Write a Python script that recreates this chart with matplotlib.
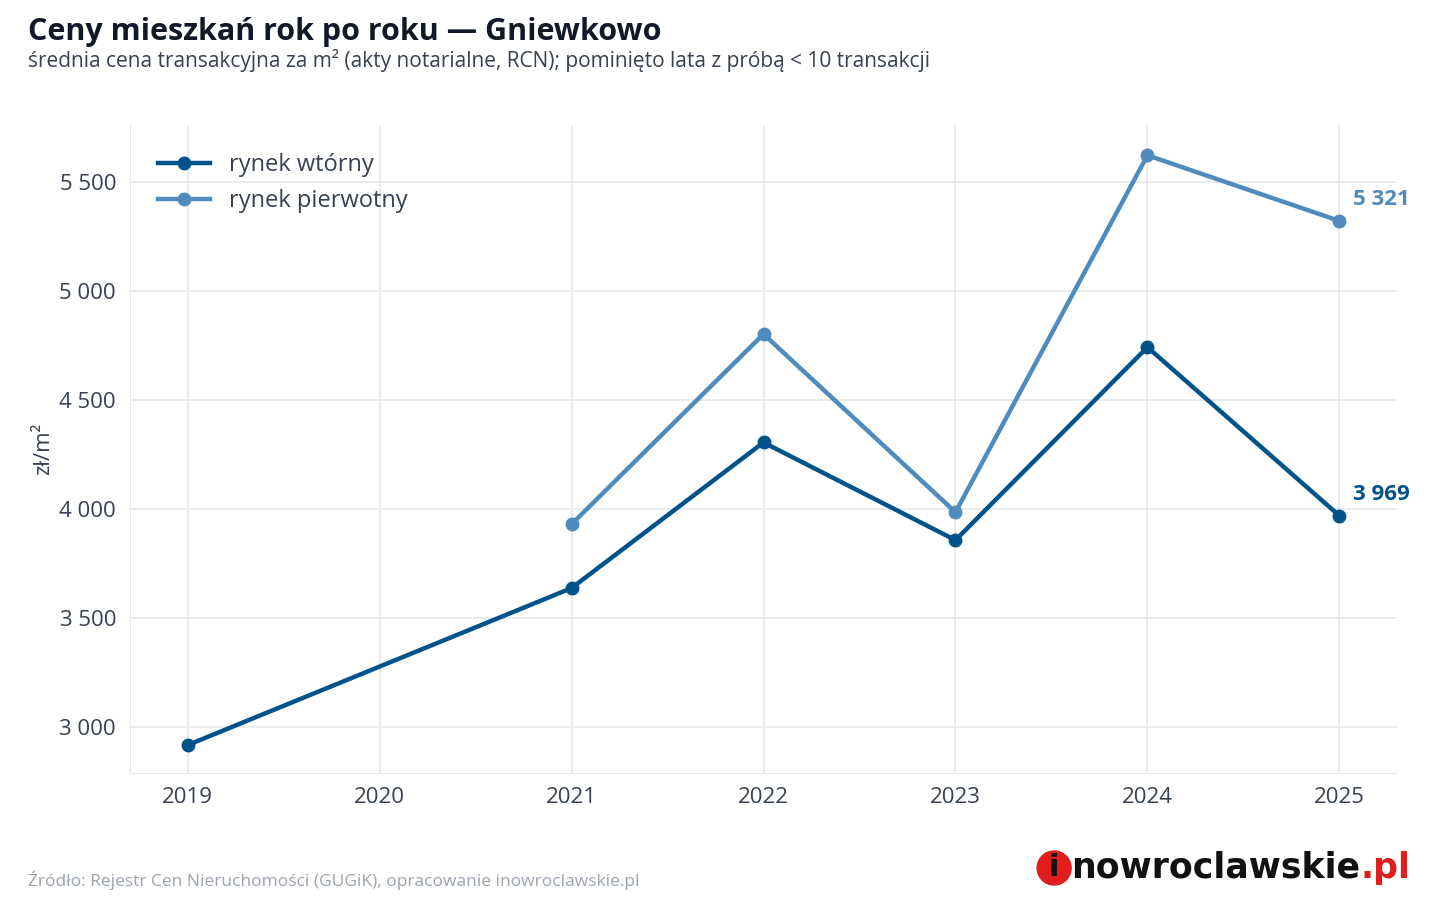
import matplotlib.pyplot as plt
from matplotlib.ticker import FuncFormatter
from matplotlib.patches import Ellipse

plt.rcParams['font.family'] = ['Open Sans', 'DejaVu Sans']

years_sec = [2019, 2021, 2022, 2023, 2024, 2025]
price_sec = [2917, 3637, 4305, 3857, 4742, 3969]
years_pri = [2021, 2022, 2023, 2024, 2025]
price_pri = [3930, 4802, 3985, 5622, 5321]

c_sec = '#00538a'
c_pri = '#4f8bbd'
txt = '#374151'

fig = plt.figure(figsize=(14.4, 9), dpi=100)
ax = fig.add_axes([130/1440, 1-773/900, 1267/1440, 648/900])

ax.plot(years_sec, price_sec, '-o', color=c_sec, lw=3.2, ms=9, label='rynek wtórny', zorder=3)
ax.plot(years_pri, price_pri, '-o', color=c_pri, lw=3.2, ms=9, label='rynek pierwotny', zorder=3)

ax.annotate('3 969', (years_sec[-1], price_sec[-1]), xytext=(10, 8), textcoords='offset points',
            color=c_sec, fontsize=16, fontweight='bold', va='bottom')
ax.annotate('5 321', (years_pri[-1], price_pri[-1]), xytext=(10, 8), textcoords='offset points',
            color=c_pri, fontsize=16, fontweight='bold', va='bottom')

ax.set_xlim(2018.70, 2025.30)
ax.set_ylim(2789, 5761)
ax.set_xticks(range(2019, 2026))
ax.set_yticks([3000, 3500, 4000, 4500, 5000, 5500])
ax.yaxis.set_major_formatter(FuncFormatter(lambda v, p: f'{int(v):,}'.replace(',', '\u00a0')))
ax.tick_params(colors=txt, labelsize=16, length=0, pad=10)
ax.grid(True, color='#e5e7eb', lw=1.2)
ax.set_axisbelow(True)
for s in ['top', 'right']:
    ax.spines[s].set_visible(False)
for s in ['left', 'bottom']:
    ax.spines[s].set_color('#e5e7eb')
ax.set_ylabel('zł/m²', color=txt, fontsize=16)

leg = ax.legend(loc='upper left', frameon=False, fontsize=17, handlelength=2.2, borderaxespad=0.8)
for t in leg.get_texts():
    t.set_color(txt)

fig.text(28/1440, 1-32/900, 'Ceny mieszkań rok po roku — Gniewkowo', fontsize=22, fontweight='bold',
         color='#111827', va='center')
fig.text(28/1440, 1-60/900, 'średnia cena transakcyjna za m² (akty notarialne, RCN); pominięto lata z próbą < 10 transakcji',
         fontsize=15, color=txt, va='center')
fig.text(28/1440, 1-880/900, 'Źródło: Rejestr Cen Nieruchomości (GUGiK), opracowanie inowroclawskie.pl',
         fontsize=12.5, color='#9ca3af', va='center')

# logo
pl = fig.text(1410/1440, 1-868/900, '.pl', fontsize=25, fontweight='bold', color='#e11d1d',
              ha='right', va='center', family='DejaVu Sans')
fig.canvas.draw()
x_pl = pl.get_window_extent().x0 / 1440
name = fig.text(x_pl, 1-868/900, 'nowroclawskie', fontsize=25, fontweight='bold', color='#111111',
                ha='right', va='center', family='DejaVu Sans')
fig.canvas.draw()
x_nm = name.get_window_extent().x0
fig.patches.append(Ellipse(((x_nm - 17) / 1440, 1-868/900), 34/1440, 34/900, transform=fig.transFigure,
                           color='#e11d1d', zorder=5))
fig.text((x_nm - 17) / 1440, 1-868/900, 'i', fontsize=22, fontweight='bold', color='#111111',
         ha='center', va='center', zorder=6, family='DejaVu Sans')

fig.savefig('out.png', dpi=100)
